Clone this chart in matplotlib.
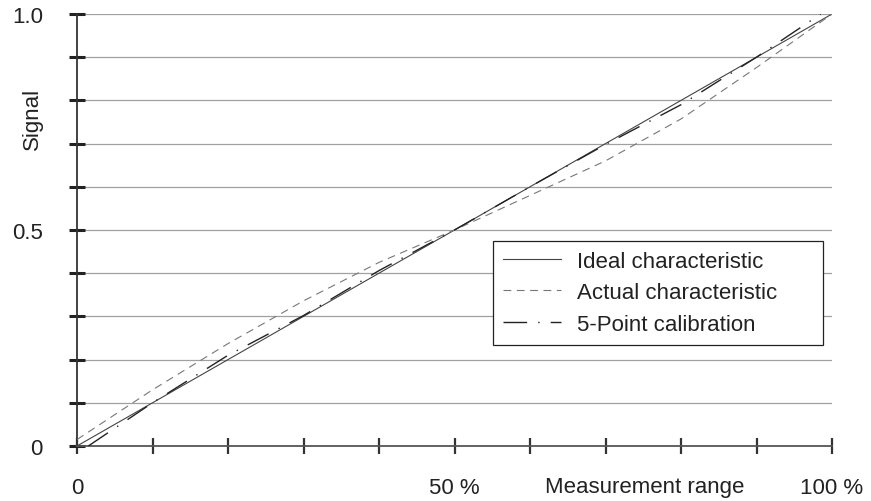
import matplotlib
matplotlib.use("Agg")
import matplotlib.pyplot as plt
import matplotlib.transforms as mtransforms

plt.rcParams['font.family'] = ['Liberation Sans', 'DejaVu Sans']

# measurement range in %, signal 0..1
ideal_x = [0, 100]
ideal_y = [0.0, 1.0]

actual_x = [0, 10, 20, 30, 40, 50, 60, 70, 80, 90, 100]
actual_y = [0.015, 0.13, 0.237, 0.336, 0.425, 0.5, 0.58, 0.66, 0.757, 0.876, 1.0]

calib_x = [1.5, 10, 20, 30, 40, 50, 60, 70, 80, 90, 98.5]
calib_y = [0.0, 0.10, 0.21, 0.302, 0.406, 0.5, 0.6, 0.698, 0.79, 0.90, 1.0]

grid_y = [0.1, 0.2, 0.3, 0.4, 0.5, 0.6, 0.7, 0.8, 0.9, 1.0]
x_minor = [10, 20, 30, 40, 60, 70, 80, 90]
y_minor = [0.1, 0.2, 0.3, 0.4, 0.6, 0.7, 0.8, 0.9]
x_major = [0, 50, 100]
x_labels = ['0', '50 %', '100 %']
y_major = [0, 0.5, 1.0]
y_labels = ['0', '0.5', '1.0']

txt = '#222222'
fs = 16

fig = plt.figure(figsize=(8.71, 5.02), dpi=100)
ax = fig.add_axes([77 / 871, 55 / 502, 755 / 871, 432 / 502])

for g in grid_y:
    ax.axhline(g, color='#a0a0a0', lw=0.9, zorder=1)

ax.plot(ideal_x, ideal_y, color='#444444', lw=0.8, label='Ideal characteristic', zorder=3)
ax.plot(actual_x, actual_y, color='#777777', lw=0.8, ls=(0, (7, 5)),
        label='Actual characteristic', zorder=3)
ax.plot(calib_x, calib_y, color='#222222', lw=1.0, ls=(0, (17, 8, 1, 8)),
        label='5-Point calibration', zorder=3)

ax.set_xlim(0, 100)
ax.set_ylim(0, 1)

for s in ['top', 'right']:
    ax.spines[s].set_visible(False)
ax.spines['left'].set_color('#333333')
ax.spines['left'].set_linewidth(1.3)
ax.spines['bottom'].set_color('#555555')
ax.spines['bottom'].set_linewidth(1.3)

ax.set_xticks(x_major)
ax.set_xticklabels(x_labels)
ax.set_xticks(x_minor, minor=True)
ax.set_yticks(y_major)
ax.set_yticklabels(y_labels)
ax.set_yticks(y_minor, minor=True)

ax.tick_params(axis='x', which='both', direction='inout', length=11, width=1.6,
               color='#333333')
ax.tick_params(axis='y', which='both', direction='inout', length=11, width=2.2,
               color='#222222')
ax.tick_params(axis='x', which='major', pad=17, labelsize=fs, labelcolor=txt)
ax.tick_params(axis='y', which='major', pad=19, labelsize=fs, labelcolor=txt)

trans = mtransforms.blended_transform_factory(ax.transData, ax.transAxes)
ax.text(75.2, -0.093, 'Measurement range', transform=trans, ha='center', va='center',
        fontsize=fs, color=txt)

fig.text(32 / 871, 1 - 119 / 502, 'Signal', rotation=90, ha='center', va='center',
         fontsize=fs, color=txt)

leg = ax.legend(loc='upper left', bbox_to_anchor=(0.551, 0.475, 0.437, 0.0),
                mode='expand', borderaxespad=0, fancybox=False, framealpha=1,
                edgecolor='#222222', fontsize=fs, handlelength=2.6,
                handletextpad=0.75, labelspacing=0.47, borderpad=0.45)
leg.get_frame().set_linewidth(0.9)
for t in leg.get_texts():
    t.set_color(txt)
leg.set_zorder(5)

fig.savefig('out.png', dpi=100)
